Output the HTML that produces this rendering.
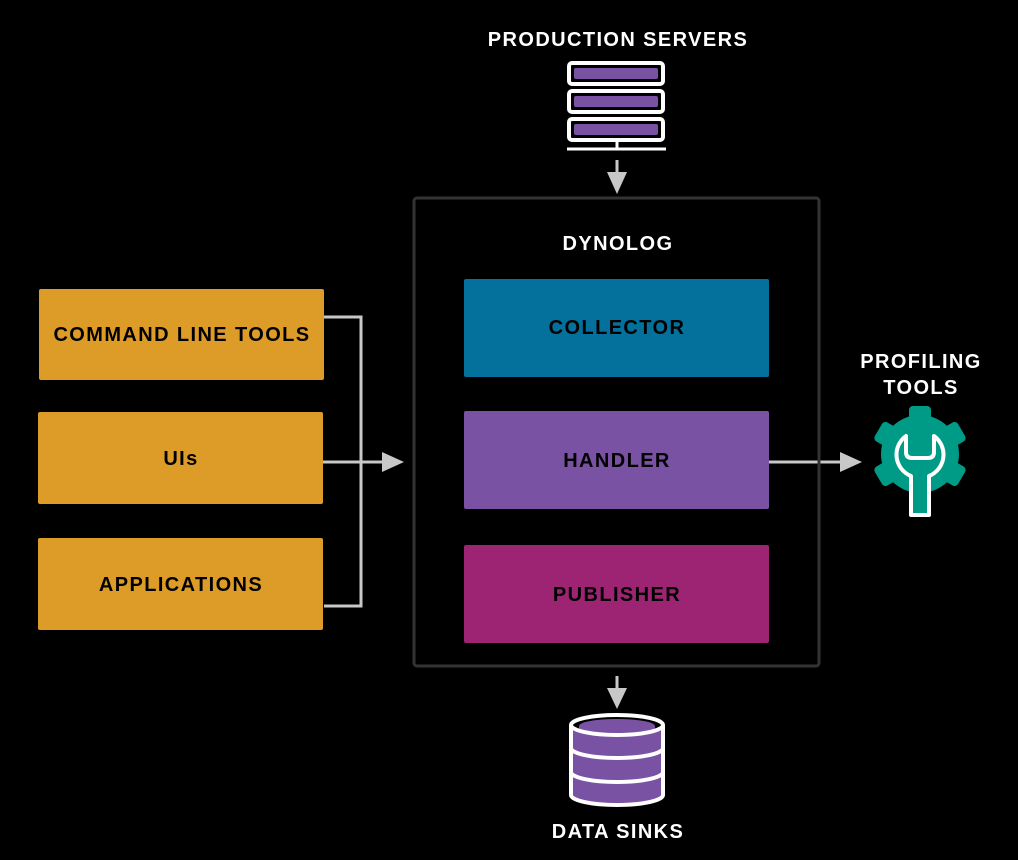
<!DOCTYPE html>
<html><head><style>body{margin:0;background:#000}svg{display:block}text{font-family:"Liberation Sans",sans-serif;font-weight:bold;fill:#fff;text-anchor:middle;letter-spacing:1.4px}</style></head><body>
<svg width="1018" height="860" viewBox="0 0 1018 860">
<rect width="1018" height="860" fill="#000"/>
<text x="618" y="46" font-size="20">PRODUCTION SERVERS</text>
<g stroke="#fff" stroke-width="4" fill="none">
<rect x="569" y="63" width="94" height="21" rx="3"/>
<rect x="569" y="91" width="94" height="21" rx="3"/>
<rect x="569" y="119" width="94" height="21" rx="3"/>
<line x1="567" y1="149" x2="666" y2="149" stroke-width="3"/>
<line x1="617" y1="141" x2="617" y2="149" stroke-width="3"/>
</g>
<g fill="#7952a3"><rect x="574" y="68" width="84" height="11" rx="2"/><rect x="574" y="96" width="84" height="11" rx="2"/><rect x="574" y="124" width="84" height="11" rx="2"/></g>
<g stroke="#c8c8c8" stroke-width="3" fill="none">
<line x1="617" y1="160" x2="617" y2="180"/>
<line x1="617" y1="676" x2="617" y2="696"/>
<polyline points="324,317 361,317 361,606 324,606"/>
<line x1="323" y1="462" x2="390" y2="462"/>
<line x1="768" y1="462" x2="848" y2="462"/>
</g>
<g fill="#c8c8c8">
<polygon points="607,172 627,172 617,194"/>
<polygon points="607,688 627,688 617,709"/>
<polygon points="382,452 382,472 404,462"/>
<polygon points="840,452 840,472 862,462"/>
</g>
<rect x="414" y="198" width="405" height="468" rx="3" fill="none" stroke="#333" stroke-width="3"/>
<text x="618" y="250" font-size="20">DYNOLOG</text>
<rect x="464" y="279" width="305" height="98" rx="2" fill="#03719c"/>
<rect x="464" y="411" width="305" height="98" rx="2" fill="#7952a3"/>
<rect x="464" y="545" width="305" height="98" rx="2" fill="#9c2472"/>
<text x="617" y="334" font-size="20" style="fill:#000">COLLECTOR</text>
<text x="617" y="467" font-size="20" style="fill:#000">HANDLER</text>
<text x="617" y="601" font-size="20" style="fill:#000">PUBLISHER</text>
<rect x="39" y="289" width="285" height="91" rx="2" fill="#dd9c28"/>
<rect x="38" y="412" width="285" height="92" rx="2" fill="#dd9c28"/>
<rect x="38" y="538" width="285" height="92" rx="2" fill="#dd9c28"/>
<text x="182" y="341" font-size="20" style="fill:#000">COMMAND LINE TOOLS</text>
<text x="181" y="465" font-size="20" style="fill:#000">UIs</text>
<text x="181" y="591" font-size="20" style="fill:#000">APPLICATIONS</text>
<text x="921" y="368" font-size="20">PROFILING</text>
<text x="921" y="394" font-size="20">TOOLS</text>
<g fill="#009b87" transform="translate(920,454)">
<circle r="39"/>
<g id="t"><rect x="-11" y="-48" width="22" height="18" rx="4"/></g>
<use href="#t" transform="rotate(60)"/><use href="#t" transform="rotate(120)"/><use href="#t" transform="rotate(180)"/><use href="#t" transform="rotate(240)"/><use href="#t" transform="rotate(300)"/>
</g>
<path d="M906,436 L906,452 Q906,458 912,458 L928,458 Q934,458 934,452 L934,436 A23,23 0 0 1 929,476 L929,515 L911,515 L911,476 A23,23 0 0 1 906,436 Z" fill="#009b87" stroke="#fff" stroke-width="4" stroke-linejoin="round"/>
<path d="M571,726 L571,795 A46,10 0 0 0 663,795 L663,726" fill="#7952a3"/>
<ellipse cx="617" cy="726" rx="46" ry="10" fill="#000"/>
<path d="M579,738 L579,726 A38,7 0 0 1 655,726 L655,738" fill="#7952a3"/>
<g stroke="#fff" stroke-width="4" fill="none">
<ellipse cx="617" cy="725" rx="46" ry="10"/>
<path d="M571,725 L571,795 A46,10 0 0 0 663,795 L663,725"/>
<path d="M571,748 A46,10 0 0 0 663,748"/>
<path d="M571,772 A46,10 0 0 0 663,772"/>
</g>
<text x="618" y="838" font-size="20">DATA SINKS</text>
</svg>
</body></html>
